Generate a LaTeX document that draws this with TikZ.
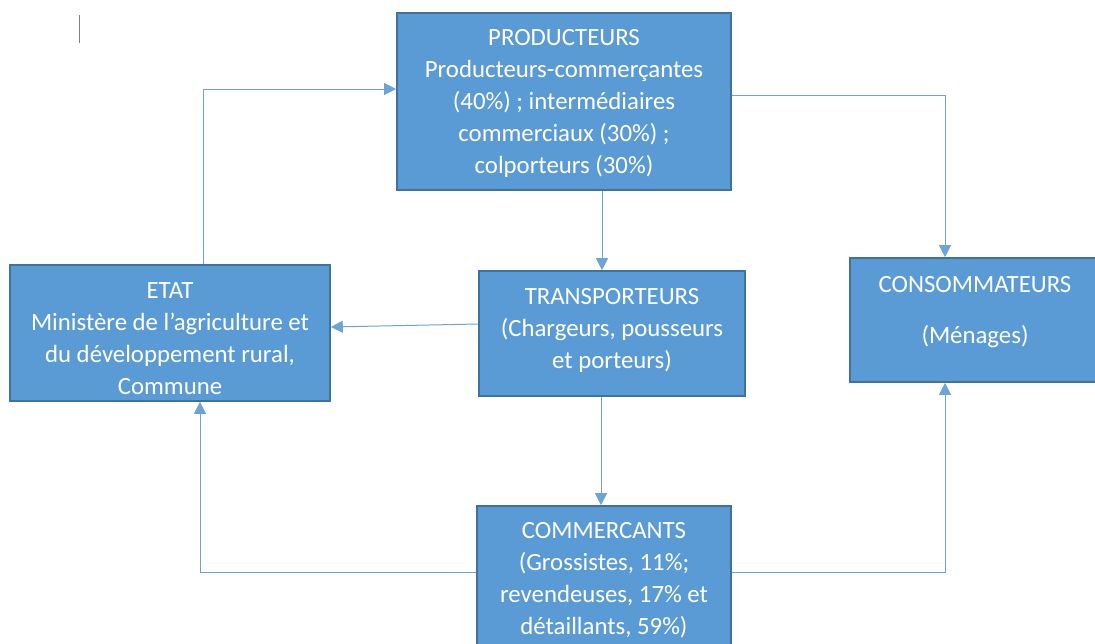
\documentclass[tikz,border=0pt]{standalone}
\usepackage{fontspec}
\setmainfont{Carlito}
\usetikzlibrary{arrows.meta}
\definecolor{boxfill}{HTML}{5B9BD5}
\definecolor{boxline}{HTML}{41719C}
\definecolor{conn}{HTML}{6FA3D6}
\begin{document}
\begin{tikzpicture}[x=1pt,y=-1pt,
  box/.style={draw=boxline,line width=1.6pt,fill=boxfill,rectangle,inner sep=0pt},
  txt/.style={text=white,align=center,inner sep=0pt,font=\fontsize{24.8}{32}\selectfont},
  conn/.style={draw=conn,line width=1pt,-{Triangle[length=12pt,width=12pt]}}]
\useasboundingbox (0,0) rectangle (1095,643);
\draw[gray,line width=0.8pt] (79,15) -- (79,43);
% boxes
\node[box,minimum width=334pt,minimum height=177pt] (prod) at (564,101.5) {};
\node[box,minimum width=320pt,minimum height=136pt] (etat) at (170,333) {};
\node[box,minimum width=266pt,minimum height=125pt] (trans) at (612,333.5) {};
\node[box,minimum width=250pt,minimum height=124pt] (cons) at (975,320) {};
\node[box,minimum width=254pt,minimum height=150pt] (comm) at (604,581) {};
% texts
\node[txt] (prodT) at (564,103) {PRODUCTEURS\\Producteurs-commerçantes\\(40\%) ; intermédiaires\\commerciaux (30\%) ;\\colporteurs (30\%)};
\node[txt] (etatT) at (170,339) {ETAT\\Ministère de l’agriculture et\\du développement rural,\\Commune};
\node[txt] (transT) at (612,330) {TRANSPORTEURS\\(Chargeurs, pousseurs\\et porteurs)};
\node[txt] (consT) at (975,312) {CONSOMMATEURS\\[19pt](Ménages)};
\node[txt] (commT) at (604,580.5) {COMMERCANTS\\(Grossistes, 11\%;\\revendeuses, 17\% et\\détaillants, 59\%)};
% connectors
\coordinate (c1) at (203,89);
\draw[conn] (etat.north -| c1) -- (c1) -- (prod.west |- c1);
\coordinate (c2) at (945,95);
\draw[conn] (prod.east |- c2) -- (c2) -- (cons.north -| c2);
\draw[conn] (prod.south -| 602,0) -- (trans.north -| 602,0);
\draw[conn] (trans.west |- 0,324) -- (etat.east |- 0,327);
\draw[conn] (trans.south -| 601,0) -- (comm.north -| 601,0);
\coordinate (c3) at (200,572);
\draw[conn] (comm.west |- c3) -- (c3) -- (etat.south -| c3);
\coordinate (c4) at (945,572);
\draw[conn] (comm.east |- c4) -- (c4) -- (cons.south -| c4);
\end{tikzpicture}
\end{document}
